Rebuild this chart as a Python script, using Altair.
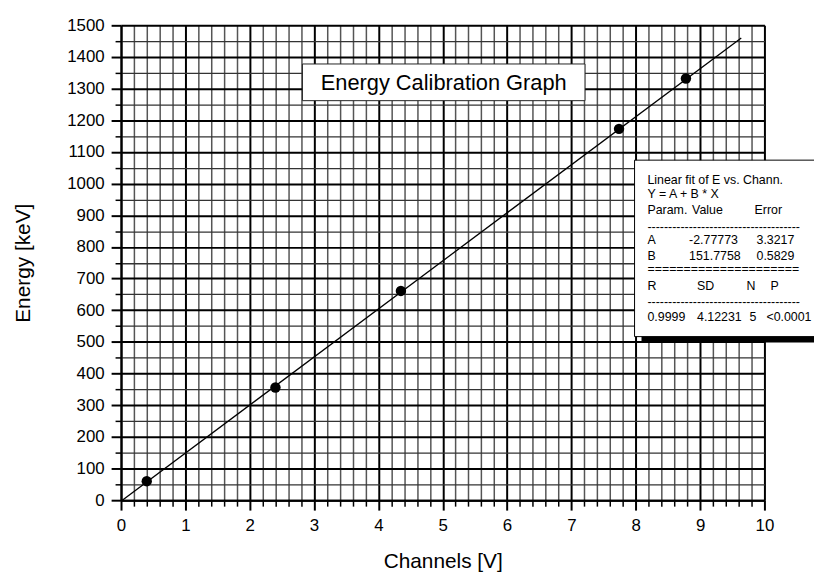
import altair as alt
import pandas as pd

# ---------------- data ----------------
channels = [0.40, 2.40, 4.35, 7.74, 8.78]
energy = [60, 356, 661, 1173, 1332]

# linear fit end points (E = A + B*X, A=-2.77773, B=151.7758)
fit_x = [0.02, 9.64]
fit_y = [0, 1460]

x_ticks = [round(i * 0.2, 1) for i in range(51)]
y_ticks = list(range(0, 1501, 50))

title_text = "Energy Calibration Graph"

legend_rows = [
    ["Linear fit of E vs. Chann."],
    ["Y = A + B * X"],
    ["Param.", "Value", "Error"],
    ["-" * 37],
    ["A", "-2.77773", "3.3217"],
    ["B", "151.7758", "0.5829"],
    ["=" * 21],
    ["R", "SD", "N", "P"],
    ["-" * 37],
    ["0.9999", "4.12231", "5", "<0.0001"],
]

# ---------------- layout ----------------
LEFT, TOP = 122, 23
W, H = 649, 479
FONT = "Liberation Sans"

col_x = [
    [653], [653], [653, 698, 761], [653], [653, 695, 763],
    [653, 695, 763], [653], [653, 703, 753, 777], [653], [653, 703, 756, 773],
]
row_y = [183, 197.5, 213.5, 230, 243.5, 260, 273, 290, 306, 321.5]

leg = []
for r, row in enumerate(legend_rows):
    for c, t in enumerate(row):
        leg.append({"t": t, "px": col_x[r][c] - LEFT, "py": row_y[r] - TOP})
leg_df = pd.DataFrame(leg)

pts = pd.DataFrame({"x": channels, "y": energy})
fit = pd.DataFrame({"x": fit_x, "y": fit_y})

is_int_x = "abs(datum.value - round(datum.value)) < 0.001"
is_100 = "datum.value % 100 === 0"

xscale = alt.Scale(domain=[0, 10], nice=False, zero=False)
yscale = alt.Scale(domain=[0, 1500], nice=False, zero=False)

xaxis = alt.Axis(
    values=x_ticks,
    labelExpr=f"{is_int_x} ? format(datum.value, 'd') : ''",
    labelOverlap=False, labelFlush=False,
    labelFont=FONT, labelFontSize=17, labelColor="black", labelPadding=8,
    tickColor="black",
    tickSize={"condition": {"test": is_int_x, "value": 10}, "value": 6},
    tickWidth={"condition": {"test": is_int_x, "value": 2}, "value": 1.5},
    domainColor="black", domainWidth=2,
    grid=True,
    gridColor={"condition": {"test": is_int_x, "value": "black"}, "value": "#555555"},
    gridWidth={"condition": {"test": is_int_x, "value": 2}, "value": 1.5},
    title="Channels [V]", titleFont=FONT, titleFontSize=21, titleFontWeight="normal",
    titleColor="black", titleX=W / 2, titleY=68, titleBaseline="alphabetic",
)
yaxis = alt.Axis(
    values=y_ticks,
    labelExpr=f"{is_100} ? format(datum.value, 'd') : ''",
    labelOverlap=False, labelFlush=False,
    labelFont=FONT, labelFontSize=17, labelColor="black", labelPadding=7,
    tickColor="black",
    tickSize={"condition": {"test": is_100, "value": 10}, "value": 6},
    tickWidth={"condition": {"test": is_100, "value": 2}, "value": 1.5},
    domainColor="black", domainWidth=2,
    grid=True,
    gridColor={"condition": {"test": is_100, "value": "black"}, "value": "#333333"},
    gridWidth={"condition": {"test": is_100, "value": 2}, "value": 1.3},
    title="Energy [keV]", titleFont=FONT, titleFontSize=21, titleFontWeight="normal",
    titleColor="black", titleX=-92, titleY=H / 2, titleBaseline="alphabetic",
    titleAngle=270,
)

line = alt.Chart(fit).mark_line(color="black", strokeWidth=1.3).encode(
    x=alt.X("x:Q", scale=xscale, axis=xaxis),
    y=alt.Y("y:Q", scale=yscale, axis=yaxis),
)
points = alt.Chart(pts).mark_circle(color="black", opacity=1, size=110).encode(
    x=alt.X("x:Q", scale=xscale, axis=xaxis),
    y=alt.Y("y:Q", scale=yscale, axis=yaxis),
)

one = pd.DataFrame({"t": [title_text]})
title_box = alt.Chart(one).mark_rect(fill="white", stroke="#222222", strokeWidth=1).encode(
    x=alt.value(305 - LEFT), x2=alt.value(590 - LEFT),
    y=alt.value(62 - TOP), y2=alt.value(99 - TOP),
)
title_lbl = alt.Chart(one).mark_text(
    font=FONT, fontSize=22, color="black", align="center", baseline="middle"
).encode(text="t:N", x=alt.value((305 + 590) / 2 - LEFT), y=alt.value(81 - TOP))

shadow = alt.Chart(one).mark_rect(fill="black").encode(
    x=alt.value(647 - LEFT), x2=alt.value(840 - LEFT),
    y=alt.value(166 - TOP), y2=alt.value(343 - TOP),
)
leg_box = alt.Chart(one).mark_rect(fill="white", stroke="black", strokeWidth=1).encode(
    x=alt.value(640 - LEFT), x2=alt.value(835 - LEFT),
    y=alt.value(159 - TOP), y2=alt.value(337 - TOP),
)
leg_txt = alt.Chart(leg_df).mark_text(
    font=FONT, fontSize=12.5, color="black", align="left", baseline="alphabetic"
).encode(
    text="t:N",
    x=alt.X("px:Q", scale=None, axis=None),
    y=alt.Y("py:Q", scale=None, axis=None),
)

chart = alt.layer(
    line, points, title_box, title_lbl, shadow, leg_box, leg_txt
).properties(
    width=W, height=H,
    autosize=alt.AutoSizeParams(type="none"),
    padding={"left": 114, "top": 15, "right": 50, "bottom": 74},
).configure_view(stroke=None).configure(background="white")

chart.save("out.html", embed_options={"renderer": "svg", "actions": False})
